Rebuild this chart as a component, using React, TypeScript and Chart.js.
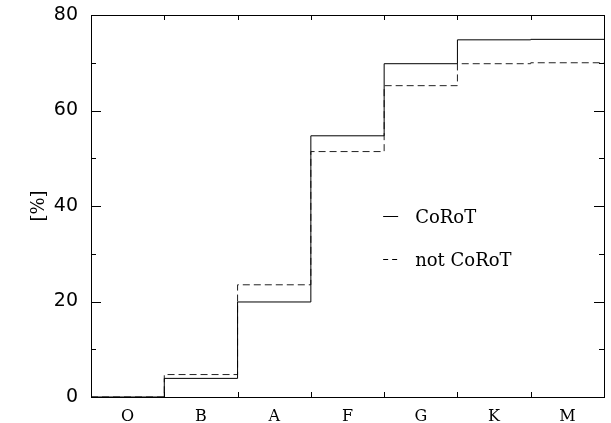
import React, { useEffect, useRef } from "react";
import { Chart, registerables } from "chart.js";

Chart.register(...registerables);

const categories = ["O", "B", "A", "F", "G", "K", "M"];
const corot = [0, 3.9, 19.9, 54.7, 69.8, 74.8, 74.9];
const notCorot = [0, 4.7, 23.5, 51.4, 65.2, 69.8, 70.0];
const yTickValues = [0, 20, 40, 60, 80];
const seriesLabels = ["CoRoT", "not CoRoT"];

const toSteps = (vals: number[]) => [
  ...vals.map((v, i) => ({ x: i, y: v })),
  { x: vals.length, y: vals[vals.length - 1] },
];

const framePlugin = {
  id: "frame",
  afterDraw(chart: any) {
    const { ctx, chartArea } = chart;
    const { left, right, top, bottom } = chartArea;
    const xs = chart.scales.x;
    const ys = chart.scales.y;
    ctx.save();
    ctx.strokeStyle = "#000";
    ctx.lineWidth = 1;
    ctx.setLineDash([]);
    ctx.strokeRect(Math.round(left) + 0.5, Math.round(top) + 0.5, Math.round(right - left), Math.round(bottom - top));
    ctx.beginPath();
    for (let v = 0; v <= 80; v += 10) {
      const y = Math.round(ys.getPixelForValue(v)) + 0.5;
      const len = v % 20 === 0 ? 10 : 5;
      ctx.moveTo(left, y);
      ctx.lineTo(left + len, y);
      ctx.moveTo(right, y);
      ctx.lineTo(right - len, y);
    }
    for (let i = 1; i < categories.length; i++) {
      const x = Math.round(xs.getPixelForValue(i)) + 0.5;
      ctx.moveTo(x, bottom);
      ctx.lineTo(x, bottom - 5);
      ctx.moveTo(x, top);
      ctx.lineTo(x, top + 5);
    }
    ctx.stroke();

    // legend
    const lx0 = xs.getPixelForValue(4) - 1;
    const lx1 = lx0 + 15;
    const tx = lx0 + 32;
    const rows = [38, 29];
    ctx.font = '18px "DejaVu Serif"';
    ctx.fillStyle = "#000";
    ctx.textBaseline = "alphabetic";
    ctx.textAlign = "left";
    rows.forEach((rv, i) => {
      const y = Math.round(ys.getPixelForValue(rv)) + 0.5;
      ctx.beginPath();
      ctx.setLineDash(i === 0 ? [] : [5, 4]);
      ctx.moveTo(lx0, y);
      ctx.lineTo(lx1, y);
      ctx.stroke();
      ctx.fillText(seriesLabels[i], tx, y + 6.5);
    });
    ctx.restore();
  },
};

export default function App() {
  const ref = useRef<HTMLCanvasElement>(null);
  useEffect(() => {
    if (!ref.current) return;
    const chart = new Chart(ref.current, {
      type: "line",
      data: {
        datasets: [
          {
            label: seriesLabels[0],
            data: toSteps(corot),
            stepped: "before",
            borderColor: "#000",
            borderWidth: 1,
            pointRadius: 0,
            fill: false,
          },
          {
            label: seriesLabels[1],
            data: toSteps(notCorot),
            stepped: "before",
            borderColor: "#222",
            borderWidth: 1,
            borderDash: [7, 4],
            pointRadius: 0,
            fill: false,
          },
        ],
      },
      options: {
        animation: false,
        responsive: false,
        layout: { padding: { top: 15, right: 7, left: 0, bottom: 0 } },
        plugins: { legend: { display: false }, tooltip: { enabled: false } },
        scales: {
          x: {
            type: "linear",
            min: 0,
            max: categories.length,
            grid: { display: false, drawTicks: false },
            border: { display: false },
            afterBuildTicks: (s: any) => {
              s.ticks = categories.map((_, i) => ({ value: i + 0.5 }));
            },
            afterFit: (s: any) => {
              s.height = 26;
              s.paddingLeft = 0;
              s.paddingRight = 0;
            },
            ticks: {
              autoSkip: false,
              maxRotation: 0,
              padding: 10,
              color: "#000",
              font: { family: '"DejaVu Serif"', size: 16 },
              callback: (v: any) => categories[Math.floor(Number(v))] ?? "",
            },
          },
          y: {
            min: 0,
            max: 80,
            grid: { display: false, drawTicks: false },
            border: { display: false },
            afterBuildTicks: (s: any) => {
              s.ticks = yTickValues.map((v) => ({ value: v }));
            },
            afterFit: (s: any) => {
              s.width = 91;
              s.paddingTop = 0;
              s.paddingBottom = 0;
            },
            ticks: {
              padding: 13,
              color: "#000",
              font: { family: '"DejaVu Sans"', size: 19 },
            },
            title: {
              display: true,
              text: "[%]",
              color: "#000",
              font: { family: '"DejaVu Serif"', size: 18 },
              padding: { top: 29, bottom: 0 },
            },
          },
        },
      },
      plugins: [framePlugin],
    });
    return () => chart.destroy();
  }, []);
  return (
    <canvas
      ref={ref}
      width={611}
      height={423}
      style={{ position: "absolute", left: 0, top: 0, width: 611, height: 423 }}
    />
  );
}
